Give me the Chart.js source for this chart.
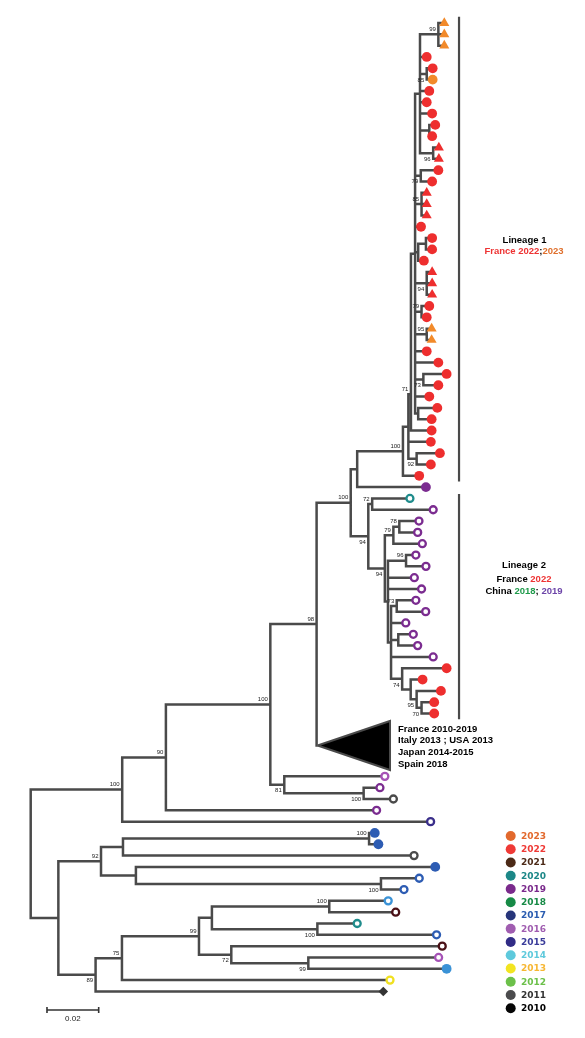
<!DOCTYPE html>
<html>
<head>
<meta charset="utf-8">
<script src="https://cdn.jsdelivr.net/npm/chart.js@4.4.0/dist/chart.umd.min.js"></script>
<style>
  html, body { margin: 0; padding: 0; background: #fff; }
  #wrap { width: 585px; height: 1038px; position: relative; }
</style>
</head>
<body>
<div id="wrap"><canvas id="arvore"></canvas></div>
<script>
// tips, top to bottom: branch depth (subst./site), year, marker shape
const leafDepth = [
  0.1600, 0.1600, 0.1600, 0.1532, 0.1555, 0.1555, 0.1542, 0.1532, 0.1553, 0.1565,
  0.1553, 0.1579, 0.1579, 0.1577, 0.1553, 0.1532, 0.1532, 0.1532, 0.1510, 0.1553,
  0.1553, 0.1521, 0.1553, 0.1553, 0.1553, 0.1542, 0.1532, 0.1551, 0.1551, 0.1532,
  0.1577, 0.1609, 0.1577, 0.1542, 0.1573, 0.1551, 0.1551, 0.1548, 0.1583, 0.1548,
  0.1503, 0.1529, 0.1467, 0.1557, 0.1502, 0.1497, 0.1515, 0.1490, 0.1529, 0.1484,
  0.1512, 0.1490, 0.1528, 0.1451, 0.1480, 0.1497, 0.1557, 0.1609, 0.1516, 0.1587,
  0.1561, 0.1561, 0.1370, 0.1351, 0.1403, 0.1338, 0.1547, 0.1331, 0.1345, 0.1483,
  0.1565, 0.1503, 0.1444, 0.1383, 0.1412, 0.1263, 0.1570, 0.1592, 0.1578, 0.1609,
  0.1390, 0.1364
];
const leafYear = [
  2023, 2023, 2023, 2022, 2022, 2023, 2022, 2022, 2022, 2022,
  2022, 2022, 2022, 2022, 2022, 2022, 2022, 2022, 2022, 2022,
  2022, 2022, 2022, 2022, 2022, 2022, 2022, 2023, 2023, 2022,
  2022, 2022, 2022, 2022, 2022, 2022, 2022, 2022, 2022, 2022,
  2022, 2019, 2020, 2019, 2019, 2019, 2019, 2019, 2019, 2019,
  2019, 2019, 2019, 2019, 2019, 2019, 2019, 2022, 2022, 2022,
  2022, 2022, 2016, 2019, 2011, 2019, 2015, 2017, 2017, 2011,
  2017, 2017, 2017, 2014, 2021, 2020, 2017, 2021, 2016, 2014,
  2013, 2010
];
// t = triangle, c = filled circle, o = open circle, d = diamond
const leafShape = [
  't','t','t','c','c','c','c','c','c','c',
  'c','t','t','c','c','t','t','t','c','c',
  'c','c','t','t','t','c','c','t','t','c',
  'c','c','c','c','c','c','c','c','c','c',
  'c','c','o','o','o','o','o','o','o','o',
  'o','o','o','o','o','o','o','c','c','c',
  'c','c','o','o','o','o','o','c','c','o',
  'c','o','o','o','o','o','o','o','o','c',
  'o','d'
];

// internal nodes: [id, depth, children, bootstrap, label side]
const lineage1Nodes = [
  ['T99', 0.1577, [0, 1, 2], 99, 'a'],
  ['N85', 0.1532, [4, 5], 85, 'b'],
  ['P910', 0.1542, [9, 10]],
  ['N96a', 0.1557, [11, 12], 96, 'b'],
  ['W', 0.1506, ['T99', 3, 'N85', 6, 7, 8, 'P910', 'N96a']],
  ['N79a', 0.1509, [13, 14], 79, 'b'],
  ['N85b', 0.1512, [15, 16, 17], 85, 'a'],
  ['R2', 0.1529, [19, 20]],
  ['R', 0.1499, ['R2', 21]],
  ['N94', 0.1532, [22, 23, 24], 94, 'b'],
  ['N79b', 0.1512, [25, 26], 79, 'a'],
  ['N95a', 0.1532, [27, 28], 95, 'a'],
  ['P73', 0.1519, [31, 32], 73, 'b'],
  ['P3435', 0.1499, [34, 35]],
  ['S1', 0.1487, ['W', 'N79a', 'N85b', 18, 'R', 'N94', 'N79b', 'N95a', 29, 30, 'P73', 33, 'P3435']],
  ['N71', 0.1471, ['S1', 36], 71, 'a'],
  ['P92', 0.1493, [38, 39], 92, 'b'],
  ['M', 0.1461, ['N71', 37, 'P92']],
  ['L1', 0.1440, ['M', 40], 100, 'a']
];
const lineage2Nodes = [
  ['N72', 0.1321, [42, 43], 72, 'a'],
  ['N78', 0.1426, [44, 45], 78, 'a'],
  ['N79', 0.1403, ['N78', 46], 79, 'a'],
  ['N96', 0.1452, [47, 48], 96, 'a'],
  ['N73', 0.1416, [51, 52], 73, 'a'],
  ['P5455', 0.1422, [54, 55]],
  ['N70', 0.1512, [60, 61], 70, 'b'],
  ['N95', 0.1493, [59, 'N70'], 95, 'b'],
  ['N74r', 0.1470, [58, 'N95']],
  ['Nred', 0.1437, [57, 'N74r'], 74, 'b'],
  ['L2d', 0.1394, ['N73', 53, 'P5455', 56, 'Nred']],
  ['L2c', 0.1382, ['N96', 49, 50, 'L2d']],
  ['L2b', 0.1370, ['N79', 'L2c'], 94, 'b'],
  ['L2a', 0.1306, ['N72', 'L2b'], 94, 'b']
];
const deepNodes = [
  ['H', 0.1263, ['L1', 41]],
  ['G', 0.1238, ['H', 'L2a'], 100, 'a'],
  ['D', 0.1106, ['G', 'TRI'], 98, 'a'],
  ['F', 0.1288, [63, 64], 100, 'b'],
  ['E', 0.0981, [62, 'F'], 81, 'b'],
  ['C', 0.0927, ['D', 'E'], 100, 'a'],
  ['B', 0.0523, ['C', 65], 90, 'a'],
  ['A', 0.0354, ['B', 66], 100, 'a'],
  ['Pblue', 0.1309, [67, 68], 100, 'a'],
  ['Z1a', 0.0357, ['Pblue', 69]],
  ['Pb2', 0.1355, [71, 72], 100, 'b'],
  ['Z1b', 0.0407, [70, 'Pb2']],
  ['Z1', 0.0272, ['Z1a', 'Z1b'], 92, 'a'],
  ['P100a', 0.1155, [73, 74], 100, 'a'],
  ['P100b', 0.1109, [75, 76], 100, 'b'],
  ['Z5', 0.0701, ['P100a', 'P100b']],
  ['P99', 0.1074, [78, 79], 99, 'b'],
  ['Z6', 0.0776, [77, 'P99'], 72, 'b'],
  ['Z4', 0.0651, ['Z5', 'Z6'], 99, 'a'],
  ['Z3', 0.0353, ['Z4', 80], 75, 'a'],
  ['Z2', 0.0251, ['Z3', 81], 89, 'b'],
  ['Z', 0.0107, ['Z1', 'Z2']],
  ['root', 0, ['A', 'Z']]
];
// nodes whose row is not the midpoint of their children
const fixedRow = { N71: 32.8, M: 35.66 };

// collapsed clade (triangle)
const cladeRows = [61.66, 65.99];
const cladeDepth = 0.1390;
const cladeLabels = ['France 2010-2019', 'Italy 2013 ; USA 2013', 'Japan 2014-2015', 'Spain 2018'];

const legendYears = [2023, 2022, 2021, 2020, 2019, 2018, 2017, 2016, 2015, 2014, 2013, 2012, 2011, 2010];
const legendDot = ['#e2692d', '#ef3a36', '#4c2a17', '#1c8787', '#7a2a8c', '#178a46', '#27357a',
                   '#a05db0', '#312c86', '#5ec9dc', '#f2e421', '#6cc04a', '#4b4b4d', '#050505'];
const legendText = ['#e2692d', '#ef3a36', '#4c2a17', '#1c8787', '#7a2a8c', '#178a46', '#2a5cb0',
                    '#a05db0', '#3a3c9a', '#5ec9dc', '#f7b733', '#6cc04a', '#333333', '#000000'];
const tipColor = {
  2023: '#f28a2a', 2022: '#ee2e2e', 2021: '#4a1016', 2020: '#1f8c8c', 2019: '#7b2c90',
  2018: '#1a8c48', 2017: '#2d5cb3', 2016: '#a552b6', 2015: '#3a2e8a', 2014: '#3a92d6',
  2013: '#f0e020', 2012: '#6cbf48', 2011: '#4a4a4a', 2010: '#333333'
};

const lineageBars = [[-0.55, 40.5], [41.6, 61.5]];
const lineageBarDepth = 0.1657;
const scaleBarLength = 0.02;

// ---- build tree geometry ----
const nodes = {};
[lineage1Nodes, lineage2Nodes, deepNodes].forEach(list => {
  list.forEach(n => { nodes[n[0]] = { x: n[1], kids: n[2], boot: n[3], side: n[4] }; });
});

function rowOf(ref) {
  if (typeof ref === 'number') return ref < 62 ? ref : ref + 4.55;
  if (ref === 'TRI') return (cladeRows[0] + cladeRows[1]) / 2;
  const n = nodes[ref];
  if (n.row === undefined) {
    n.row = fixedRow[ref] !== undefined ? fixedRow[ref]
      : (rowOf(n.kids[0]) + rowOf(n.kids[n.kids.length - 1])) / 2;
  }
  return n.row;
}
function depthOf(ref) {
  if (typeof ref === 'number') return leafDepth[ref];
  return nodes[ref].x;
}

const branchPts = [];
Object.keys(nodes).forEach(id => {
  const n = nodes[id];
  const r = rowOf(id);
  const rows = n.kids.map(rowOf);
  branchPts.push({ x: n.x, y: Math.min(r, ...rows) }, { x: n.x, y: Math.max(r, ...rows) }, { x: null, y: null });
  n.kids.forEach((k, j) => {
    if (k === 'TRI') return;
    branchPts.push({ x: n.x, y: rows[j] }, { x: depthOf(k), y: rows[j] }, { x: null, y: null });
  });
});

const apex = { x: nodes.D.x + 0.0004, y: rowOf('TRI') };
const trianglePts = [apex, { x: cladeDepth, y: cladeRows[0] }, { x: cladeDepth, y: cladeRows[1] }, apex];

const barPts = [];
lineageBars.forEach(b => {
  barPts.push({ x: lineageBarDepth, y: b[0] }, { x: lineageBarDepth, y: b[1] }, { x: null, y: null });
});

const tipPts = leafDepth.map((d, i) => ({ x: d, y: rowOf(i) }));

function drawParts(ctx, parts, cx, cy) {
  const total = parts.reduce((s, p) => s + ctx.measureText(p[0]).width, 0);
  let px = cx - total / 2;
  ctx.textAlign = 'left';
  parts.forEach(p => {
    ctx.fillStyle = p[1];
    ctx.fillText(p[0], px, cy);
    px += ctx.measureText(p[0]).width;
  });
}

const extras = {
  id: 'extras',
  afterDraw(chart) {
    const { ctx } = chart;
    const xs = chart.scales.x, ys = chart.scales.y;
    ctx.save();
    ctx.textBaseline = 'middle';

    // bootstrap values
    ctx.font = '6px "Liberation Sans", Arial, sans-serif';
    ctx.fillStyle = '#222';
    ctx.textAlign = 'right';
    Object.keys(nodes).forEach(id => {
      const n = nodes[id];
      if (!n.boot) return;
      const px = xs.getPixelForValue(n.x);
      const py = ys.getPixelForValue(rowOf(id));
      ctx.fillText(String(n.boot), px - 2.5, py + (n.side === 'b' ? 6 : -5));
    });

    // collapsed clade labels
    ctx.font = 'bold 9.5px "Liberation Sans", Arial, sans-serif';
    ctx.fillStyle = '#000';
    ctx.textAlign = 'left';
    const lx = xs.getPixelForValue(cladeDepth) + 8;
    const y0 = ys.getPixelForValue(cladeRows[0]);
    cladeLabels.forEach((t, i) => ctx.fillText(t, lx, y0 + 8 + i * 11.8));

    // lineage labels
    drawParts(ctx, [['Lineage 1', '#000']], 524.5, 240);
    drawParts(ctx, [['France 2022', '#ee3333'], [';', '#000'], ['2023', '#df6f2c']], 524, 251.5);
    drawParts(ctx, [['Lineage 2', '#000']], 524, 565);
    drawParts(ctx, [['France ', '#000'], ['2022', '#ee3333']], 524, 579);
    drawParts(ctx, [['China ', '#000'], ['2018', '#1e9a4a'], ['; ', '#000'], ['2019', '#6c44a8']], 524, 591);

    // legend
    ctx.font = 'bold 9px "DejaVu Sans", Verdana, sans-serif';
    legendYears.forEach((yr, i) => {
      const cy = 836 + i * 13.25;
      ctx.beginPath();
      ctx.fillStyle = legendDot[i];
      ctx.arc(510.7, cy, 5, 0, Math.PI * 2);
      ctx.fill();
      ctx.fillStyle = legendText[i];
      ctx.textAlign = 'left';
      ctx.fillText(String(yr), 521, cy + 0.5);
    });

    // scale bar
    const sx0 = xs.getPixelForValue(0.0063);
    const sx1 = xs.getPixelForValue(0.0063 + scaleBarLength);
    const sy = 1010;
    ctx.strokeStyle = '#333';
    ctx.lineWidth = 1.6;
    ctx.beginPath();
    ctx.moveTo(sx0, sy); ctx.lineTo(sx1, sy);
    ctx.moveTo(sx0, sy - 3); ctx.lineTo(sx0, sy + 3);
    ctx.moveTo(sx1, sy - 3); ctx.lineTo(sx1, sy + 3);
    ctx.stroke();
    ctx.font = '8px "Liberation Sans", Arial, sans-serif';
    ctx.fillStyle = '#222';
    ctx.textAlign = 'center';
    ctx.fillText(String(scaleBarLength), (sx0 + sx1) / 2, sy + 8.5);
    ctx.restore();
  }
};

new Chart(document.getElementById('arvore'), {
  type: 'scatter',
  data: {
    datasets: [
      {
        data: tipPts,
        pointStyle: leafShape.map(s => s === 't' ? 'triangle' : s === 'd' ? 'rectRot' : 'circle'),
        pointRadius: leafShape.map(s => s === 't' ? 5.8 : s === 'o' ? 3.5 : s === 'd' ? 4.8 : 4.9),
        pointBackgroundColor: leafShape.map((s, i) => s === 'o' ? '#ffffff' : tipColor[leafYear[i]]),
        pointBorderColor: leafYear.map(y => tipColor[y]),
        pointBorderWidth: leafShape.map(s => s === 'o' ? 2.3 : 0),
        showLine: false
      },
      {
        data: trianglePts,
        showLine: true,
        fill: 'shape',
        backgroundColor: '#000',
        borderColor: '#4a4a4a',
        borderWidth: 2,
        borderJoinStyle: 'miter',
        pointRadius: 0
      },
      {
        data: barPts,
        showLine: true,
        spanGaps: false,
        borderColor: '#4a4a4a',
        borderWidth: 2.2,
        pointRadius: 0
      },
      {
        data: branchPts,
        showLine: true,
        spanGaps: false,
        borderColor: '#4a4a4a',
        borderWidth: 2.5,
        borderCapStyle: 'square',
        pointRadius: 0
      }
    ]
  },
  options: {
    responsive: true,
    maintainAspectRatio: false,
    animation: false,
    events: [],
    layout: { padding: 0, autoPadding: false },
    plugins: { legend: { display: false }, tooltip: { enabled: false } },
    scales: {
      x: { type: 'linear', display: false, min: -0.011876, max: 0.21443 },
      y: { type: 'linear', display: false, reverse: true, min: -2.032, max: 89.664 }
    }
  },
  plugins: [extras]
});
</script>
</body>
</html>
